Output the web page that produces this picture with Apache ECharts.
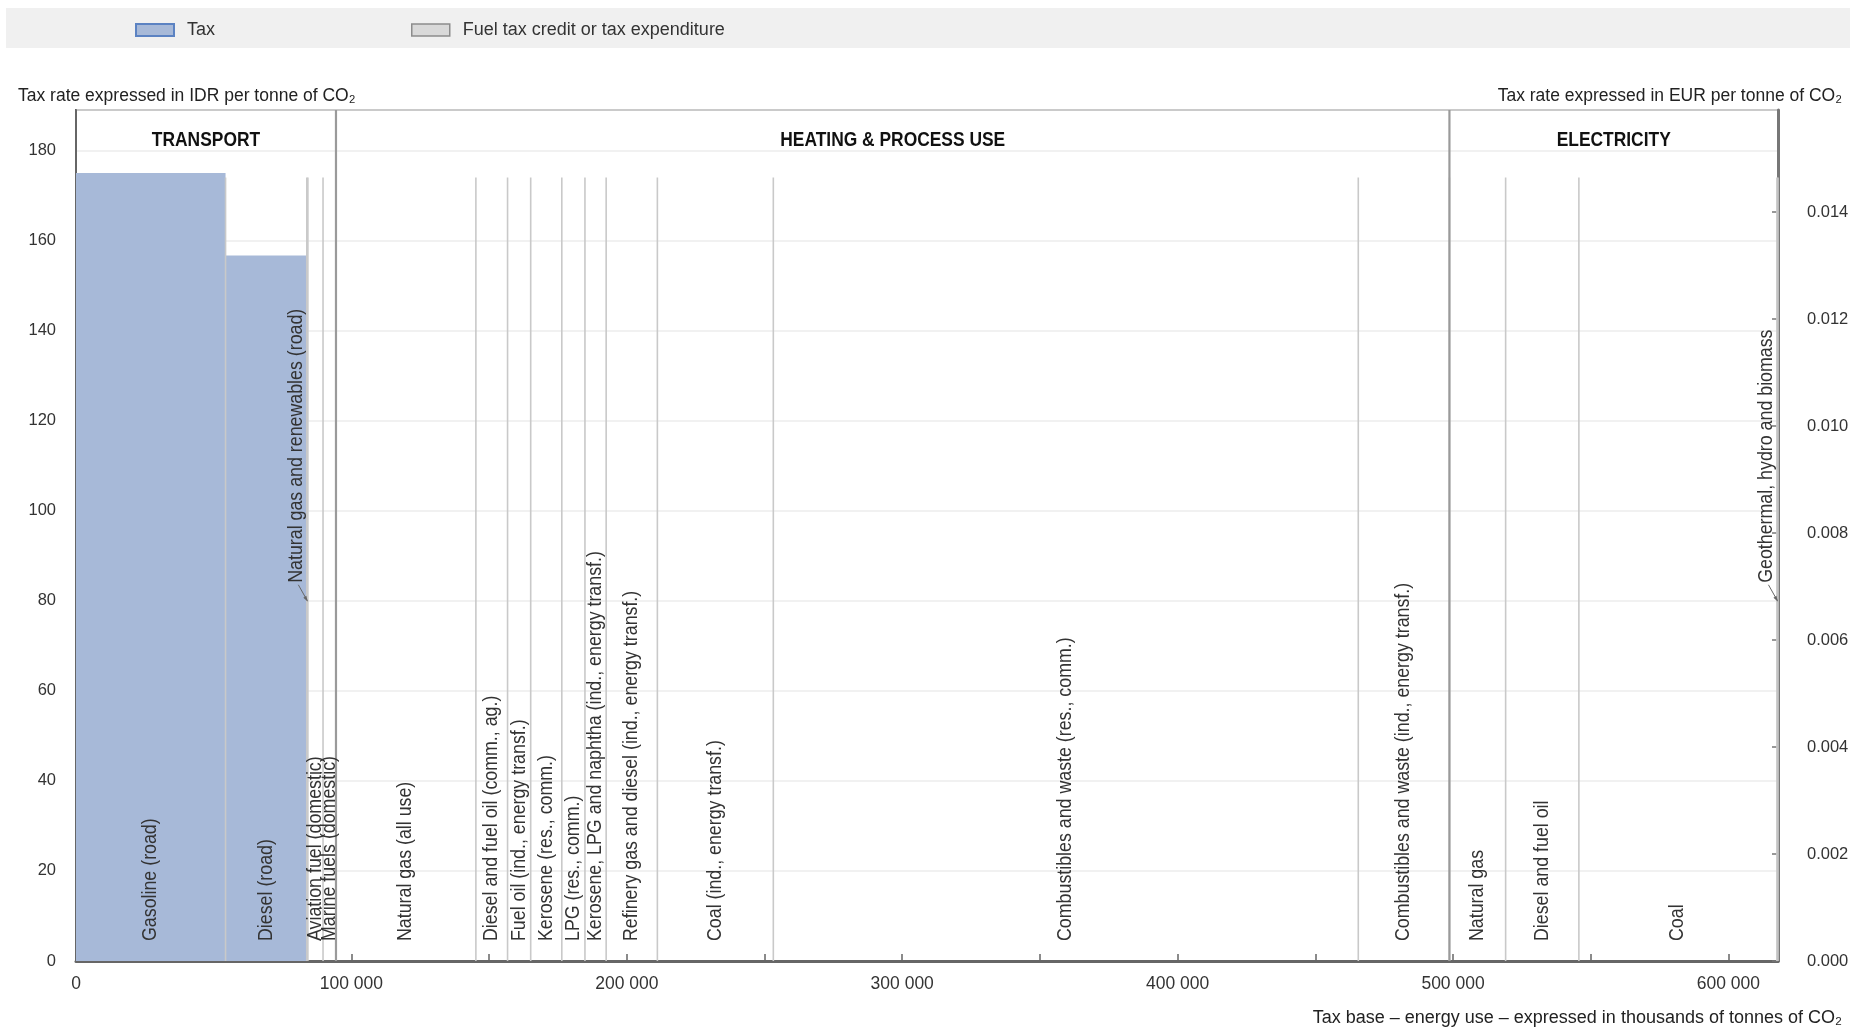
<!DOCTYPE html>
<html>
<head>
<meta charset="utf-8">
<title>Effective tax rates on energy - Indonesia</title>
<script src="https://cdn.jsdelivr.net/npm/echarts@6/dist/echarts.min.js"></script>
<style>
  html, body { margin: 0; padding: 0; background: #fff; }
  #chart { width: 1860px; height: 1029px; }
</style>
</head>
<body>
<div id="chart"></div>
<script>
// sectors, fuels, tax base (thousands of tonnes CO2) and tax rate (IDR / tCO2)
var sectorNames = ['TRANSPORT', 'HEATING & PROCESS USE', 'ELECTRICITY'];
var fuelNames = [
    'Gasoline (road)', 'Diesel (road)', 'Natural gas and renewables (road)',
    'Aviation fuel (domestic)', 'Marine fuels (domestic)',
    'Natural gas (all use)', 'Diesel and fuel oil (comm., ag.)', 'Fuel oil (ind., energy transf.)',
    'Kerosene (res., comm.)', 'LPG (res., comm.)', 'Kerosene, LPG and naphtha (ind., energy transf.)',
    'Refinery gas and diesel (ind., energy transf.)', 'Coal (ind., energy transf.)',
    'Combustibles and waste (res., comm.)', 'Combustibles and waste (ind., energy transf.)',
    'Natural gas', 'Diesel and fuel oil', 'Coal', 'Geothermal, hydro and biomass'
];
var fuelSector = [0, 0, 0, 0, 0, 1, 1, 1, 1, 1, 1, 1, 1, 1, 1, 2, 2, 2, 2];
var fuelBase = [54300, 29500, 400, 5500, 4700, 50800, 11500, 8400, 11300, 8400, 7700,
    18600, 42100, 212400, 33100, 20400, 26600, 71900, 400];
var fuelTax = [175, 156.7, 0, 0, 0, 0, 0, 0, 0, 0, 0, 0, 0, 0, 0, 0, 0, 0, 0];
var creditData = []; // no fuel tax credit shown
var xTicks = [0, 100000, 200000, 300000, 400000, 500000, 600000];

var IDR_PER_EUR = 11880;
var FONT = '"Liberation Sans Narrow", "Arial Narrow", "Liberation Sans", Arial, sans-serif';
var NARROW = 0.89; // squeeze for the condensed look of the original labels

// build intervals
var fuels = [], acc = 0;
fuelBase.forEach(function (b, i) {
    fuels.push([acc, acc + b, fuelTax[i], i]);
    acc += b;
});
var xMax = acc;
var sectors = [];
sectorNames.forEach(function (n, s) {
    var st = null, en = null;
    fuels.forEach(function (f, i) {
        if (fuelSector[i] === s) {
            if (st === null) st = f[0];
            en = f[1];
        }
    });
    sectors.push([st, en, s]);
});

function fmtThousands(v) {
    return String(Math.round(v)).replace(/\B(?=(\d{3})+(?!\d))/g, ' ');
}

var yMax = 189;
var chart = echarts.init(document.getElementById('chart'));

var option = {
    animation: false,
    textStyle: { fontFamily: FONT },
    graphic: [{
        type: 'rect', z: -10,
        shape: { x: 6, y: 8, width: 1844, height: 40 },
        style: { fill: '#f0f0f0' }
    }],
    title: [
        { text: 'Tax rate expressed in IDR per tonne of CO\u2082', left: 13, top: 82,
          textStyle: { fontFamily: FONT, fontSize: 17.5, fontWeight: 'normal', color: '#222' } },
        { text: 'Tax rate expressed in EUR per tonne of CO\u2082', right: 13, top: 82,
          textStyle: { fontFamily: FONT, fontSize: 17.5, fontWeight: 'normal', color: '#222' } },
        { text: 'Tax base \u2013 energy use \u2013 expressed in thousands of tonnes of CO\u2082', right: 13, top: 1004,
          textStyle: { fontFamily: FONT, fontSize: 18, fontWeight: 'normal', color: '#222' } }
    ],
    legend: [
        { left: 135, top: 21, itemWidth: 38, itemHeight: 12, padding: 0,
          data: [{ name: 'Tax', icon: 'rect',
                   itemStyle: { color: '#a7b9d8', borderColor: '#5b82c2', borderWidth: 2 } }],
          textStyle: { fontFamily: FONT, fontSize: 18, color: '#333', padding: [0, 0, 0, 8] } },
        { left: 411, top: 21, itemWidth: 38, itemHeight: 12, padding: 0,
          data: [{ name: 'Fuel tax credit or tax expenditure', icon: 'rect',
                   itemStyle: { color: '#d9d9d9', borderColor: '#8c8c8c', borderWidth: 1.5 } }],
          textStyle: { fontFamily: FONT, fontSize: 18, color: '#333', padding: [0, 0, 0, 8] } }
    ],
    grid: {
        left: 76, right: 82, top: 110, bottom: 68,
        show: true, borderColor: '#666', borderWidth: 2, backgroundColor: 'transparent'
    },
    xAxis: {
        type: 'value', min: 0, max: xMax, interval: 50000,
        axisLine: { lineStyle: { color: '#666', width: 3 } },
        axisTick: { inside: true, length: 7, lineStyle: { color: '#666', width: 1.5 } },
        splitLine: { show: false },
        axisLabel: {
            fontFamily: FONT, fontSize: 17.5, color: '#333', margin: 14, showMaxLabel: false,
            formatter: function (v) { return xTicks.indexOf(v) >= 0 ? fmtThousands(v) : ''; }
        }
    },
    yAxis: [
        {
            type: 'value', min: 0, max: yMax, interval: 20, position: 'left',
            axisLine: { show: true, lineStyle: { color: '#666', width: 2 } },
            axisTick: { show: false },
            splitLine: { lineStyle: { color: '#ececec', width: 1.5 } },
            axisLabel: { fontFamily: FONT, fontSize: 16.5, color: '#333', margin: 20, showMaxLabel: false }
        },
        {
            type: 'value', min: 0, max: yMax / IDR_PER_EUR, interval: 0.002, position: 'right',
            axisLine: { show: true, lineStyle: { color: '#777', width: 3 } },
            axisTick: { show: true, inside: true, length: 6, lineStyle: { color: '#777', width: 1.5 } },
            splitLine: { show: false },
            axisLabel: { fontFamily: FONT, fontSize: 16.5, color: '#333', margin: 29, showMaxLabel: false,
                         formatter: function (v) { return v.toFixed(3); } }
        }
    ],
    series: [
        {
            name: 'Tax', type: 'custom', z: 2, clip: true,
            itemStyle: { color: '#a7b9d8' },
            encode: { x: [0, 1], y: 2 },
            data: fuels,
            renderItem: function (params, api) {
                var tax = api.value(2);
                if (tax <= 0) return null;
                var p0 = api.coord([api.value(0), tax]);
                var p1 = api.coord([api.value(1), 0]);
                return {
                    type: 'rect',
                    shape: { x: p0[0], y: p0[1], width: p1[0] - p0[0], height: p1[1] - p0[1] },
                    style: { fill: '#a7b9d8' }
                };
            }
        },
        {
            name: 'Fuel tax credit or tax expenditure', type: 'custom', z: 2,
            itemStyle: { color: '#d9d9d9' },
            data: creditData,
            renderItem: function () { return null; }
        },
        {
            name: 'fuel separators', type: 'custom', z: 3, silent: true, clip: false,
            encode: { x: 1, y: 2 },
            data: fuels,
            renderItem: function (params, api) {
                var b = api.coord([api.value(1), 0]);
                var t = api.coord([api.value(1), 174]);
                return {
                    type: 'line',
                    shape: { x1: b[0], y1: b[1], x2: t[0], y2: t[1] },
                    style: { stroke: '#c9c9c9', lineWidth: 1.6 }
                };
            }
        },
        {
            name: 'sector separators', type: 'custom', z: 4, silent: true, clip: false,
            encode: { x: 1 },
            data: sectors.slice(0, sectors.length - 1),
            renderItem: function (params, api) {
                var b = api.coord([api.value(1), 0]);
                return {
                    type: 'line',
                    shape: { x1: b[0], y1: b[1], x2: b[0], y2: params.coordSys.y },
                    style: { stroke: '#9a9a9a', lineWidth: 2.2 }
                };
            }
        },
        {
            name: 'sector names', type: 'custom', z: 5, silent: true, clip: false,
            encode: { x: [0, 1] },
            data: sectors,
            renderItem: function (params, api) {
                var a = api.coord([api.value(0), 0])[0];
                var b = api.coord([api.value(1), 0])[0];
                return {
                    type: 'text',
                    x: (a + b) / 2, y: params.coordSys.y + 30, scaleX: 0.87,
                    style: {
                        text: sectorNames[api.value(2)], fill: '#111',
                        font: 'bold 20px ' + FONT, align: 'center', verticalAlign: 'middle'
                    }
                };
            }
        },
        {
            name: 'fuel names', type: 'custom', z: 6, silent: true, clip: false,
            encode: { x: [0, 1] },
            data: fuels,
            renderItem: function (params, api) {
                var s = api.value(0), e = api.value(1), i = api.value(3);
                var a = api.coord([s, 0]), b = api.coord([e, 0]);
                var cx = (a[0] + b[0]) / 2;
                var font = '20px ' + FONT;
                if (e - s < 1000) {
                    // sliver: label beside it with a small leader arrow
                    var base = api.coord([s, 84])[1];
                    var tip = api.coord([s, 80])[1];
                    return {
                        type: 'group',
                        children: [
                            { type: 'text', x: cx - 11, y: base, rotation: Math.PI / 2, scaleX: NARROW,
                              style: { text: fuelNames[i], fill: '#333', font: font,
                                       align: 'left', verticalAlign: 'middle' } },
                            { type: 'line', shape: { x1: cx - 9, y1: base + 2, x2: cx, y2: tip },
                              style: { stroke: '#666', lineWidth: 1 } },
                            { type: 'polygon', shape: { points: [[cx + 0.5, tip + 1], [cx - 4, tip - 3], [cx - 1, tip - 5]] },
                              style: { fill: '#666' } }
                        ]
                    };
                }
                return {
                    type: 'text', x: cx, y: a[1] - 20, rotation: Math.PI / 2, scaleX: NARROW,
                    style: { text: fuelNames[i], fill: '#333', font: font,
                             align: 'left', verticalAlign: 'middle' }
                };
            }
        }
    ]
};
chart.setOption(option);
</script>
</body>
</html>
